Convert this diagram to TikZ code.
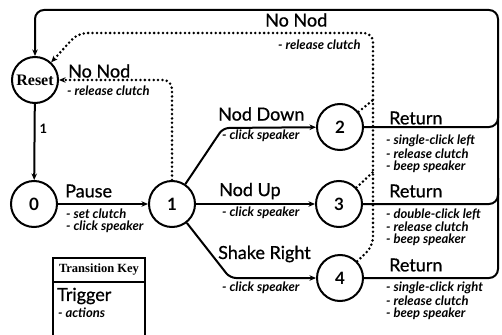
\documentclass[tikz,border=0pt]{standalone}
\usepackage{fontspec}
\setmainfont{Lato}
\newfontfamily\serifface{Liberation Serif}
\newfontfamily\lblface[FakeBold=0.8]{Lato}
\usetikzlibrary{arrows.meta}
\begin{document}
\begin{tikzpicture}[x=1pt,y=-1pt,
  state/.style={circle, draw, line width=2pt, minimum size=46pt, inner sep=0pt, font=\fontsize{17}{17}\selectfont\bfseries},
  edge/.style={line width=2pt, -{Stealth[length=6.5pt,width=5.5pt]}},
  plain/.style={line width=2pt},
  dotline/.style={line width=2.8pt, line cap=round, dash pattern=on 0pt off 4.4pt},
  dotarrow/.style={dotline, -{Stealth[length=6.5pt,width=5.5pt]}},
  lbl/.style={anchor=west, inner sep=0pt, font=\fontsize{18}{18}\selectfont\lblface},
  act/.style={anchor=west, inner sep=0pt, font=\fontsize{13}{13}\selectfont\bfseries\itshape},
]
\useasboundingbox (0,0) rectangle (502,334);
\clip (0,0) rectangle (502,334);

% states
\node[state, font=\fontsize{16}{16}\selectfont\serifface\bfseries] (reset) at (35,80) {Reset};
\node[state] (s0) at (34,204) {0};
\node[state] (s1) at (172,204) {1};
\node[state] (s2) at (340,127) {2};
\node[state] (s3) at (339,204) {3};
\node[state] (s4) at (340,278) {4};

% helper coordinates
\coordinate (tl) at (35,10);
\coordinate (tr) at (498,10);
\coordinate (br) at (498,278);
\coordinate (r2) at (498,127);
\coordinate (r3) at (498,204);
\coordinate (u2) at (498,100);
\coordinate (u3) at (498,178);
\coordinate (c12) at (223,128);
\coordinate (c14) at (230,278);
\coordinate (d4) at (373,246);
\coordinate (d3) at (373,172);
\coordinate (d2) at (373,100);
\coordinate (dtop) at (373,33);
\coordinate (dleft) at (78,33);

% solid transitions
\draw[edge] (reset) -- node[right=4pt, inner sep=0pt, font=\fontsize{13}{13}\selectfont\bfseries, pos=0.33] {1} (s0);
\draw[edge] (s0) -- (s1);
\draw[edge, rounded corners=6pt] (s1) -- (c12) -- (s2);
\draw[edge] (s1) -- (s3);
\draw[edge, rounded corners=6pt] (s1) -- (c14) -- (s4);

% return bus
\draw[edge, rounded corners=9pt] (s4) -- (br) -- (tr) -- (tl) -- (reset);
\draw[plain, rounded corners=9pt] (s2) -- (r2) -- (u2);
\draw[plain, rounded corners=9pt] (s3) -- (r3) -- (u3);

% dotted "No Nod" transitions
\draw[dotarrow, rounded corners=9pt] (s4) -- (d4) -- (dtop) -- (dleft) -- (reset);
\draw[dotline] (s3) -- (d3);
\draw[dotline] (s2) -- (d2);
\draw[dotarrow, rounded corners=9pt] (s1) -- (s1 |- reset) -- (reset);

% labels
\node[lbl] (lpause) at (65,191) {Pause};
\node[act] (apause1) at (66,214) {- set clutch};
\node[act] (apause2) at (66,227) {- click speaker};

\node[lbl] (lnn1) at (68,71) {No Nod};
\node[act] (ann1) at (67,91) {- release clutch};

\node[lbl] (lnn2) at (265,20) {No Nod};
\node[act] (ann2) at (278,45) {- release clutch};

\node[lbl] (lnd) at (218,114) {Nod Down};
\node[act] (and) at (222,136) {- click speaker};

\node[lbl] (lnu) at (219,191) {Nod Up};
\node[act] (anu) at (222,213) {- click speaker};

\node[lbl] (lsr) at (218,254) {Shake Right};
\node[act] (asr) at (222,288) {- click speaker};

\node[lbl] (lr2) at (389,118) {Return};
\node[act] (ar2a) at (386,141) {- single-click left};
\node[act] (ar2b) at (386,154) {- release clutch};
\node[act] (ar2c) at (386,167) {- beep speaker};

\node[lbl] (lr3) at (389,191) {Return};
\node[act] (ar3a) at (386,214) {- double-click left};
\node[act] (ar3b) at (386,227) {- release clutch};
\node[act] (ar3c) at (386,240) {- beep speaker};

\node[lbl] (lr4) at (389,265) {Return};
\node[act] (ar4a) at (386,288) {- single-click right};
\node[act] (ar4b) at (386,301) {- release clutch};
\node[act] (ar4c) at (386,314) {- beep speaker};

% transition key
\coordinate (k1) at (53,340);
\coordinate (k2) at (53,258);
\coordinate (k3) at (145,258);
\coordinate (k4) at (145,340);
\draw[plain] (k1) -- (k2) -- (k3) -- (k4);
\draw[line width=1.4pt] (53,282) -- (145,282);
\node[inner sep=0pt, font=\fontsize{12.5}{12.5}\selectfont\serifface\bfseries] (khead) at (99,270) {Transition Key};
\node[lbl] (ktrig) at (57,296) {Trigger};
\node[act] (kact) at (58,313) {- actions};
\end{tikzpicture}
\end{document}
